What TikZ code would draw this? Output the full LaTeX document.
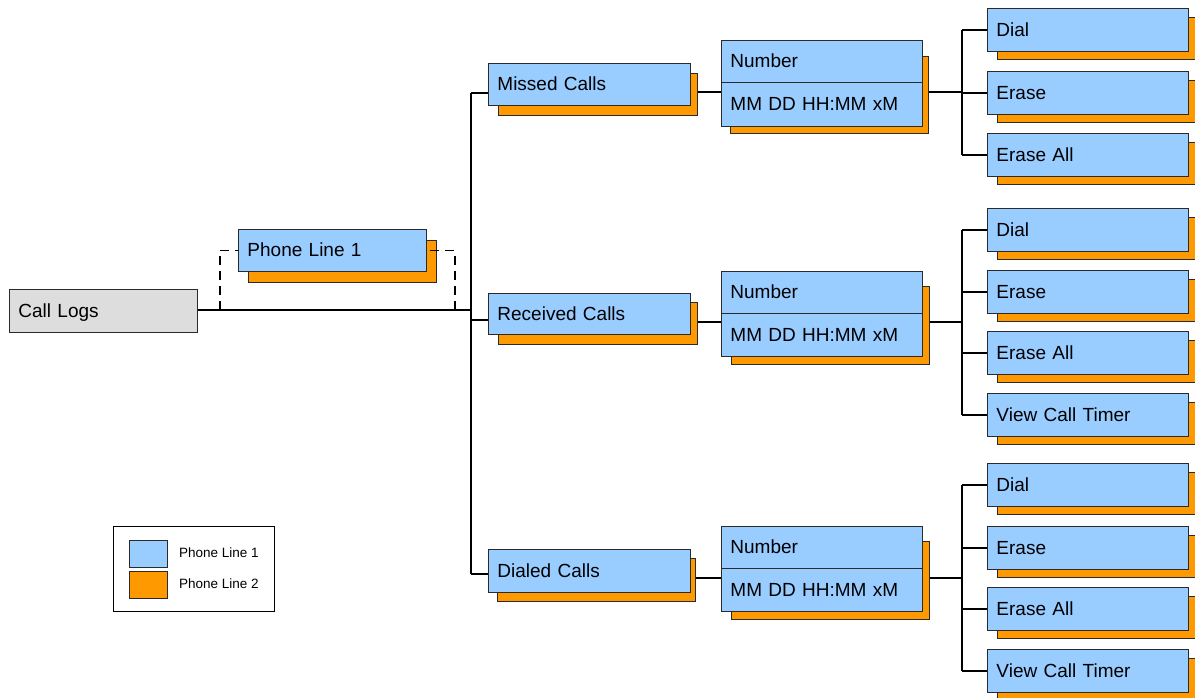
\documentclass[tikz,border=0pt]{standalone}
\usepackage{fontspec}
\setmainfont{Liberation Sans}
\definecolor{lblue}{HTML}{99CCFF}
\definecolor{lorange}{HTML}{FF9900}
\definecolor{lgray}{HTML}{DDDDDD}
\definecolor{edgec}{HTML}{2A2A2A}
\pgfdeclarelayer{bg}
\pgfdeclarelayer{shad}
\pgfsetlayers{bg,shad,main}
\tikzset{
  basebox/.style={draw=edgec, fill=lblue, line width=0.9pt, anchor=north west,
    inner xsep=9pt, inner ysep=0pt, align=left, text height=16pt, text depth=3pt,
    font=\fontsize{19}{22}\selectfont},
  callbox/.style={basebox, text width=184pt, minimum height=42pt},
  leafbox/.style={basebox, text width=183pt, minimum height=43pt},
  numbox/.style={basebox, text width=183pt},
  phonebox/.style={basebox, text width=170pt, minimum height=42pt},
  logbox/.style={basebox, fill=lgray, text width=170pt, minimum height=43pt},
  shadowbox/.style={draw=edgec, fill=lorange, line width=0.9pt},
  conn/.style={draw=black, line width=1.2pt},
  dashconn/.style={draw=black, line width=1.2pt, dash pattern=on 9pt off 6pt},
  swatch/.style={draw=edgec, line width=0.8pt, anchor=north west, minimum width=38pt, minimum height=27pt, inner sep=0pt},
  legtext/.style={anchor=west, inner sep=0pt, font=\fontsize{13.5}{16}\selectfont},
}
\newcommand\shadowrect[4]{\begin{pgfonlayer}{shad}\path[shadowbox] (#1,#2) rectangle (#3,#4);\end{pgfonlayer}}
\newcommand\leaf[3]{\shadowrect{997}{#2+9}{1196}{#2+51}\node[leafbox] (#1) at (987,#2) {#3};}
\begin{document}
\begin{tikzpicture}[x=1pt,y=-1pt]
\useasboundingbox (0,0) rectangle (1195,698);
% root
\node[logbox] (calllogs) at (9,289) {Call Logs};
% phone line 1
\shadowrect{248}{240}{436}{282}
\node[phonebox] (phone) at (238,229) {Phone Line 1};
% level 1
\shadowrect{498}{73}{697}{115}
\node[callbox] (missed) at (488,63) {Missed Calls};
\shadowrect{498}{302}{697}{344}
\node[callbox, minimum height=41pt] (received) at (488,293) {Received Calls};
\shadowrect{497}{558}{695}{601}
\node[callbox, minimum height=43pt] (dialed) at (488,549) {Dialed Calls};
% number boxes
\shadowrect{730}{56}{928}{133}
\node[numbox, minimum height=42pt] (numA1) at (721,40) {Number};
\node[numbox, minimum height=44pt] (numB1) at (721,82) {MM DD HH:MM xM};
\shadowrect{731}{286}{929}{364}
\node[numbox, minimum height=42pt] (numA2) at (721,271) {Number};
\node[numbox, minimum height=43pt] (numB2) at (721,313) {MM DD HH:MM xM};
\shadowrect{731}{541}{929}{619}
\node[numbox, minimum height=42pt] (numA3) at (721,526) {Number};
\node[numbox, minimum height=43pt] (numB3) at (721,568) {MM DD HH:MM xM};
% leaves
\leaf{mdial}{8}{Dial}
\leaf{merase}{71}{Erase}
\leaf{meraseall}{133}{Erase All}
\leaf{rdial}{208}{Dial}
\leaf{rerase}{270}{Erase}
\leaf{reraseall}{331}{Erase All}
\leaf{rview}{393}{View Call Timer}
\leaf{ddial}{463}{Dial}
\leaf{derase}{526}{Erase}
\leaf{deraseall}{587}{Erase All}
\leaf{dview}{649}{View Call Timer}
% coordinates for buses
\coordinate (trunk) at (471,310);
\coordinate (tm) at (471,93);
\coordinate (tr) at (471,320);
\coordinate (td) at (471,574);
\coordinate (busM) at (962,92);
\coordinate (busR) at (962,322);
\coordinate (busD) at (962,578);
\coordinate (brL) at (220,310);
\coordinate (brR) at (455,310);
% dashed bracket (above shadow, below box)
\begin{pgfonlayer}{shad}
\draw[dashconn] (brL) -- (brL |- phone.west) -- (brR |- phone.east) -- (brR);
\end{pgfonlayer}
\begin{pgfonlayer}{bg}
\draw[conn] (calllogs.center |- trunk) -- (trunk);
\draw[conn] (tm) -- (td);
\draw[conn] (tm) -- (tm -| missed.west);
\draw[conn] (tr) -- (tr -| received.west);
\draw[conn] (td) -- (td -| dialed.west);
\draw[conn] (missed.center |- busM) -- (busM);
\draw[conn] (received.center |- busR) -- (busR);
\draw[conn] (dialed.center |- busD) -- (busD);
\draw[conn] (busM |- mdial.west) -- (busM |- meraseall.west);
\draw[conn] (busR |- rdial.west) -- (busR |- rview.west);
\draw[conn] (busD |- ddial.west) -- (busD |- dview.west);
\foreach \n/\b in {mdial/busM,merase/busM,meraseall/busM,rdial/busR,rerase/busR,reraseall/busR,rview/busR,ddial/busD,derase/busD,deraseall/busD,dview/busD}
  \draw[conn] (\b |- \n.west) -- (\n.west);
\end{pgfonlayer}
% legend
\node[draw=black, line width=1.2pt, anchor=north west, minimum width=161pt, minimum height=85pt, inner sep=0pt] (legend) at (113,526) {};
\node[swatch, fill=lblue] (sw1) at (129,540) {};
\node[swatch, fill=lorange] (sw2) at (129,571) {};
\node[legtext] (lt1) at (179,553) {Phone Line 1};
\node[legtext] (lt2) at (179,584) {Phone Line 2};
\end{tikzpicture}
\end{document}
